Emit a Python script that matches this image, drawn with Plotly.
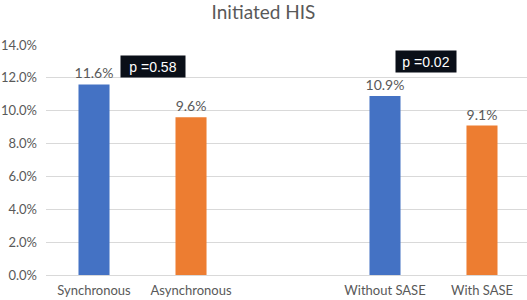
import plotly.graph_objects as go

categories = ["Synchronous", "Asynchronous", " ", "Without SASE", "With SASE"]
values = [0.116, 0.096, None, 0.109, 0.091]
colors = ["#4472C4", "#ED7D31", "#FFFFFF", "#4472C4", "#ED7D31"]
yticks = [0.0, 0.02, 0.04, 0.06, 0.08, 0.10, 0.12, 0.14]
pvals = ["p =0.58", "p =0.02"]
p_x = [0.61, 3.42]
p_y = [0.127, 0.1298]
p_w = [62, 58]

FONT = "Lato, Open Sans, sans-serif"
GREY = "#595959"

fig = go.Figure()
fig.add_trace(go.Bar(
    x=categories, y=values,
    marker=dict(color=colors, line=dict(width=0)),
    width=0.32,
    texttemplate="%{y:.1%}",
    textposition="outside",
    constraintext="none",
    textfont=dict(family=FONT, size=14, color=GREY),
    cliponaxis=False,
    hoverinfo="skip",
))

for t, xx, yy, ww in zip(pvals, p_x, p_y, p_w):
    fig.add_annotation(
        x=xx, y=yy, xref="x", yref="y", text=t, showarrow=False,
        font=dict(family="Liberation Sans, Arial, sans-serif", size=14, color="#FFFFFF"),
        bgcolor="#0A0F18", borderpad=1, width=ww, height=19,
    )

fig.update_layout(
    width=527, height=300,
    margin=dict(l=46, r=0, t=45, b=25),
    paper_bgcolor="white", plot_bgcolor="white",
    showlegend=False,
    title=dict(text="Initiated HIS", x=0.5, xanchor="center", y=0.96, yanchor="middle",
               font=dict(family=FONT, size=19, color=GREY)),
    bargap=0.68,
)
fig.update_xaxes(
    type="category", range=[-0.495, 4.464],
    showgrid=False, showline=False, ticks="",
    ticklabelstandoff=6,
    tickfont=dict(family=FONT, size=13, color=GREY),
)
fig.update_yaxes(
    range=[0, 0.14], tickvals=yticks, tickformat=".1%",
    showgrid=True, gridcolor="#D9D9D9", gridwidth=1,
    zeroline=True, zerolinecolor="#D9D9D9", zerolinewidth=1,
    showline=False, ticks="",
    ticklabelstandoff=8,
    tickfont=dict(family=FONT, size=13, color=GREY),
)

fig.write_html("out.html")
